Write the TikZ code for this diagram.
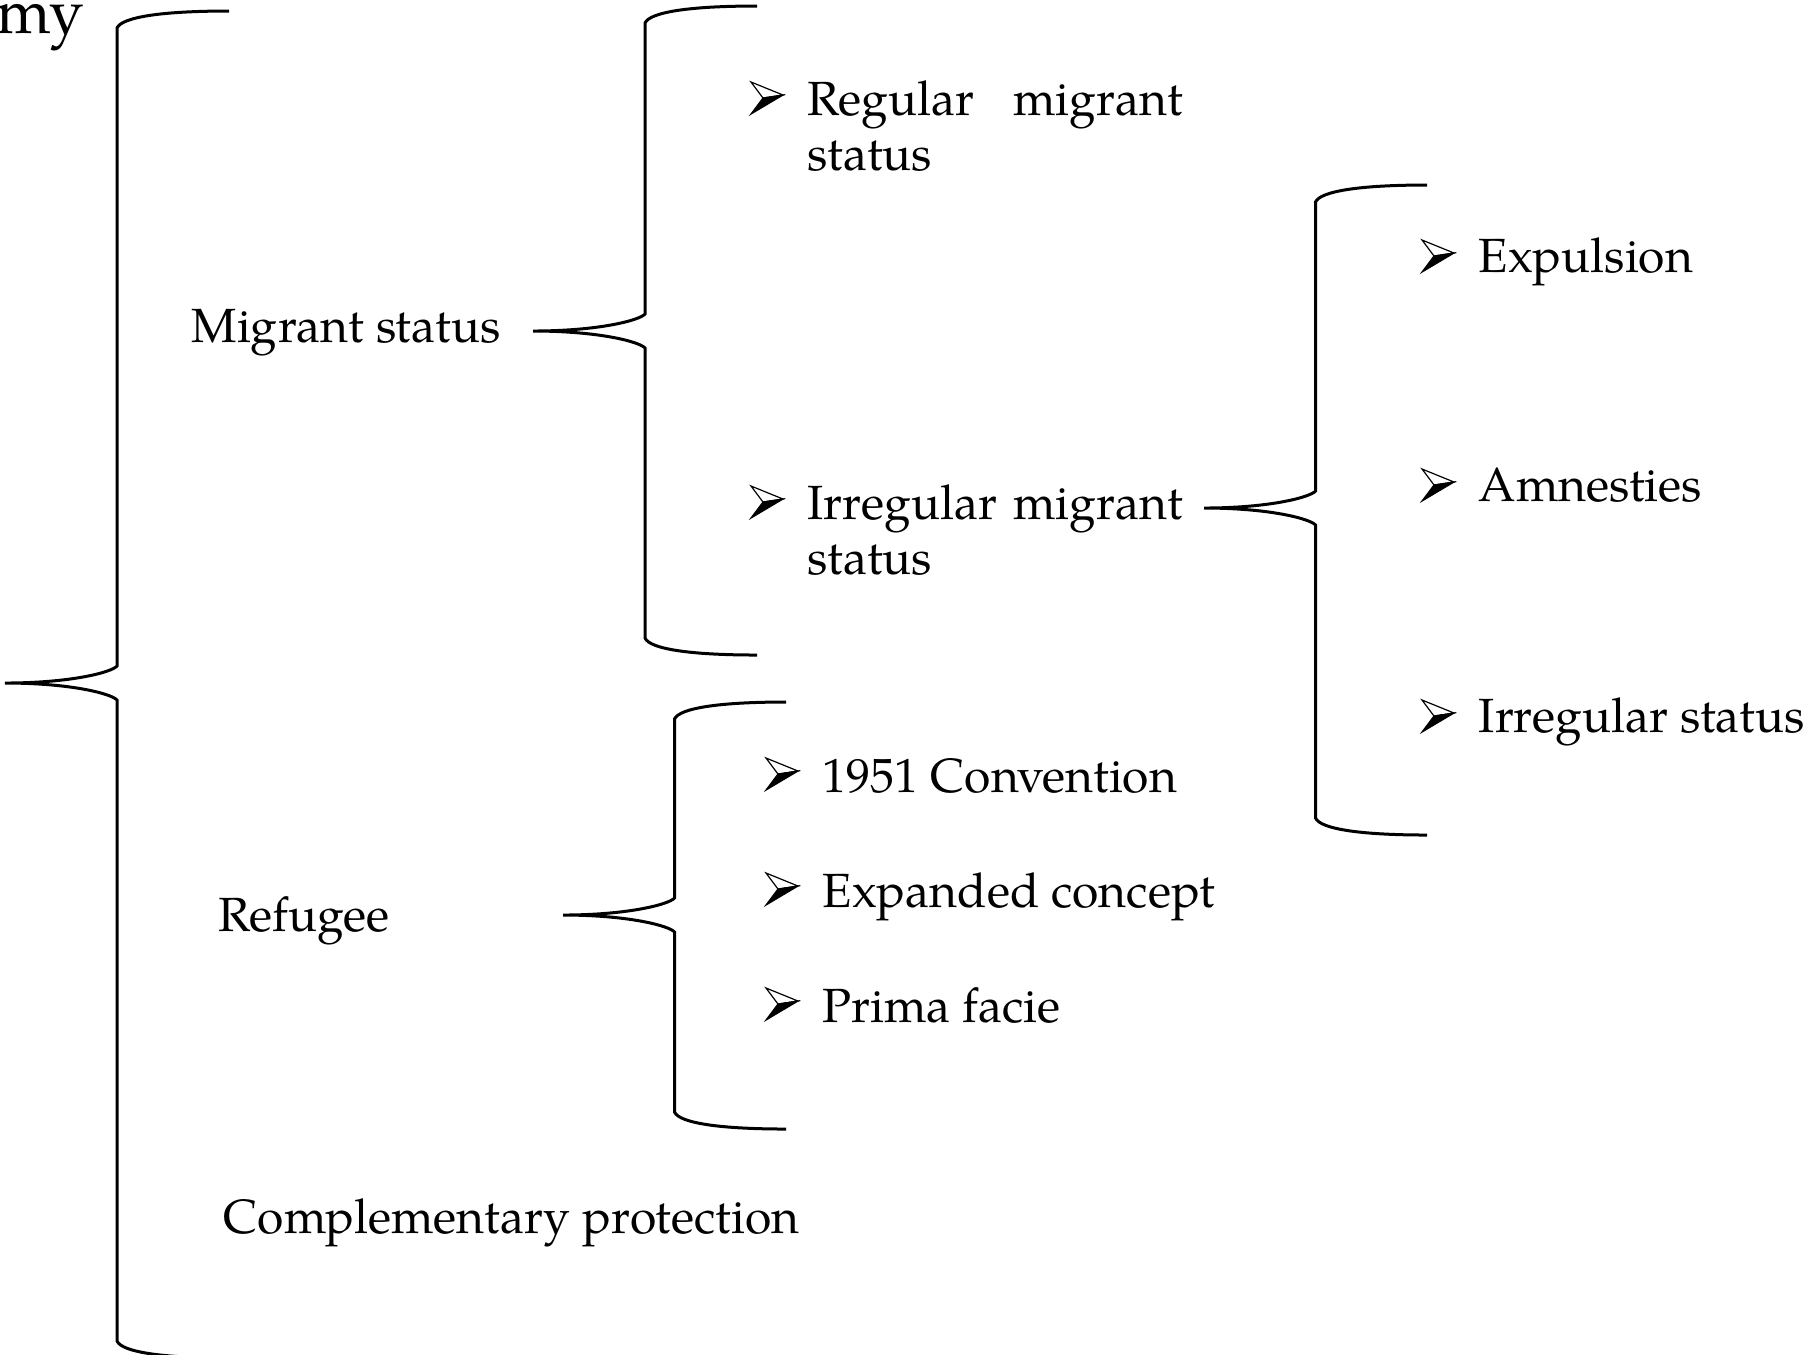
\documentclass[tikz,border=0pt]{standalone}
\usepackage{fontspec}
\setmainfont{TeX Gyre Pagella}
\usetikzlibrary{calc}
% left brace in the Word manner: tip, upper arm end, lower arm end
\newcommand{\wordbrace}[3]{%
  \draw[bracestroke] let \p1=(#1), \p2=(#2), \p3=(#3), \n1={(\x1+\x2)/2} in
    (\x2,\y2) .. controls (\n1+11.25pt,\y2) and (\n1+1.25pt,\y2-1.5pt) .. (\n1,\y2-4.25pt)
    -- (\n1,\y1+4.25pt) .. controls (\n1-1.25pt,\y1+2.75pt) and (\n1-11.25pt,\y1) .. (\x1,\y1)
    .. controls (\n1-11.25pt,\y1) and (\n1-1.25pt,\y1-2.75pt) .. (\n1,\y1-4.25pt)
    -- (\n1,\y3+4.25pt) .. controls (\n1+1.25pt,\y3+1.5pt) and (\n1+11.25pt,\y3) .. (\x3,\y3);}
\begin{document}
\begin{tikzpicture}[x=0.25pt, y=-0.25pt,
  every node/.style = {inner sep=0pt, anchor=base west,
    font=\fontsize{12}{13.75}\selectfont},
  bracestroke/.style = {line width=0.75pt},
  arrowhead/.pic = {
    \filldraw[fill=white, line width=0.3pt] (0,0) -- (32,13) -- (12,16) -- cycle;
    \filldraw[line width=0.3pt] (12,16) -- (32,13) -- (0,32) -- cycle;}]
  \useasboundingbox (0,0) rectangle (1819,1354);

  \node[font=\fontsize{15.5}{18}\selectfont] (title) at (-4,33) {my};

  % first level
  \node (migrant) at (191,342) {Migrant status};
  \node (refugee) at (218,931) {Refugee};
  \node (complementary) at (223,1233) {Complementary protection};

  % second level (two-line nodes sit on their last line)
  \node[align=left] (regular) at (807,170) {\makebox[93.75pt][s]{Regular migrant}\\status};
  \node[align=left] (irregular) at (807,574) {\makebox[93.75pt][s]{Irregular migrant}\\status};
  \node (convention) at (822,792) {1951 Convention};
  \node (expanded) at (822,907) {Expanded concept};
  \node (primafacie) at (822,1022) {Prima facie};

  % third level
  \node (expulsion) at (1478,272) {Expulsion};
  \node (amnesties) at (1478,501) {Amnesties};
  \node (irrstatus) at (1478,732) {Irregular status};

  \foreach \n in {regular, irregular}
    \pic at ([shift={(-56,-88)}]\n.base west) {arrowhead};
  \foreach \n in {convention, expanded, primafacie}
    \pic at ([shift={(-56,-34)}]\n.base west) {arrowhead};
  \foreach \n in {expulsion, amnesties, irrstatus}
    \pic at ([shift={(-56,-32)}]\n.base west) {arrowhead};

  % braces
  \coordinate (root tip) at (5,683);
  \coordinate (root top) at (229,11);
  \coordinate (root bottom) at (229,1358);
  \coordinate (migrant tip) at (533,331);
  \coordinate (migrant top) at (757,6);
  \coordinate (migrant bottom) at (757,655);
  \coordinate (irregular tip) at (1204,508);
  \coordinate (irregular top) at (1427,185);
  \coordinate (irregular bottom) at (1427,835);
  \coordinate (refugee tip) at (563,915);
  \coordinate (refugee top) at (786,702);
  \coordinate (refugee bottom) at (786,1129);
  \wordbrace{root tip}{root top}{root bottom}
  \wordbrace{migrant tip}{migrant top}{migrant bottom}
  \wordbrace{irregular tip}{irregular top}{irregular bottom}
  \wordbrace{refugee tip}{refugee top}{refugee bottom}
\end{tikzpicture}
\end{document}
